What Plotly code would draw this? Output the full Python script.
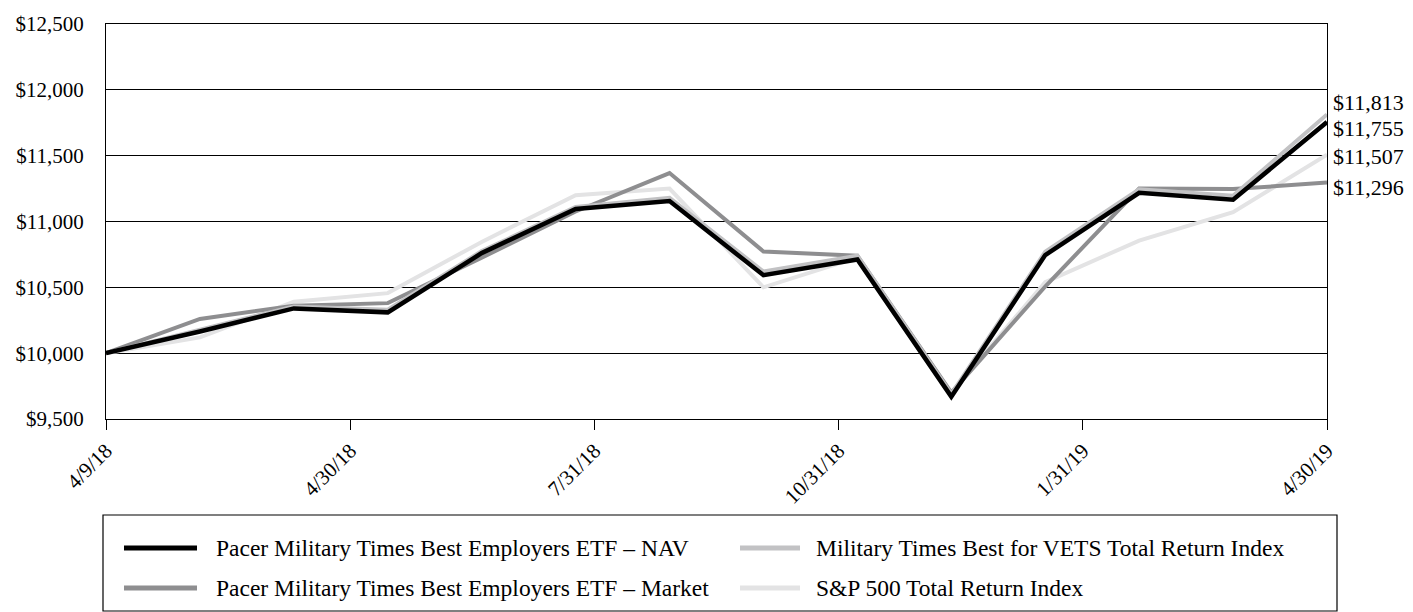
import numpy as np
import plotly.graph_objects as go

# ---- data ----
periods = ["4/9/18", "4/30/18", "5/31/18", "6/30/18", "7/31/18", "8/31/18", "9/30/18",
           "10/31/18", "11/30/18", "12/31/18", "1/31/19", "2/28/19", "3/31/19", "4/30/19"]
tick_labels = ["4/9/18", "4/30/18", "7/31/18", "10/31/18", "1/31/19", "4/30/19"]

nav = [10000, 10165, 10340, 10310, 10760, 11095, 11155, 10592, 10712, 9670, 10745, 11218, 11166, 11755]
market = [10000, 10260, 10360, 10380, 10725, 11076, 11368, 10772, 10740, 9700, 10506, 11250, 11246, 11296]
vets = [10000, 10180, 10355, 10330, 10775, 11110, 11180, 10620, 10740, 9690, 10770, 11245, 11195, 11813]
sp500 = [10000, 10120, 10390, 10456, 10845, 11200, 11250, 10500, 10725, 9700, 10540, 10855, 11070, 11507]

names = ["Pacer Military Times Best Employers ETF \u2013 NAV",
         "Military Times Best for VETS Total Return Index",
         "Pacer Military Times Best Employers ETF \u2013 Market",
         "S&P 500 Total Return Index"]
colors = {"nav": "#000000", "market": "#8e8e90", "vets": "#c2c2c4", "sp": "#e3e3e4"}

FONT = "Liberation Serif, Times New Roman, serif"
x = list(range(len(periods)))

fig = go.Figure()
# draw order: S&P, Market, VETS, NAV on top
fig.add_trace(go.Scatter(x=x, y=sp500, mode="lines", name=names[3],
                         line=dict(color=colors["sp"], width=4), showlegend=False))
fig.add_trace(go.Scatter(x=x, y=market, mode="lines", name=names[2],
                         line=dict(color=colors["market"], width=4), showlegend=False))
fig.add_trace(go.Scatter(x=x, y=vets, mode="lines", name=names[1],
                         line=dict(color=colors["vets"], width=4), showlegend=False))
fig.add_trace(go.Scatter(x=x, y=nav, mode="lines", name=names[0],
                         line=dict(color=colors["nav"], width=4.5), showlegend=False))

# end labels
end_series = [(vets, 11.5), (nav, -6), (sp500, -2), (market, -5)]
for ser, ysh in end_series:
    fig.add_annotation(x=x[-1], y=ser[-1], xref="x", yref="y",
                       text=f"${ser[-1]:,.0f}", showarrow=False,
                       xanchor="left", yanchor="middle", xshift=4, yshift=ysh,
                       font=dict(family=FONT, size=22, color="#000"))

# manual legend box (paper coords: plot area 106..1327 x, 24..419 y)
L, R, T, B = 106, 1327, 24, 419
def px(xp):
    return (xp - L) / (R - L)
def py(yp):
    return (B - yp) / (B - T)

fig.add_shape(type="rect", xref="paper", yref="paper",
              x0=px(103), x1=px(1337), y0=py(515), y1=py(611),
              line=dict(color="#000", width=1.2), fillcolor="rgba(0,0,0,0)")

legend_items = [(names[0], colors["nav"], 124, 197, 214, 548),
                (names[1], colors["vets"], 740, 800, 814, 548),
                (names[2], colors["market"], 124, 197, 214, 588),
                (names[3], colors["sp"], 740, 800, 814, 588)]
for name, col, lx0, lx1, tx, ty in legend_items:
    fig.add_shape(type="line", xref="paper", yref="paper",
                  x0=px(lx0), x1=px(lx1), y0=py(ty), y1=py(ty),
                  line=dict(color=col, width=5))
    fig.add_annotation(xref="paper", yref="paper", x=px(tx), y=py(ty),
                       text=name, showarrow=False, xanchor="left", yanchor="middle",
                       font=dict(family=FONT, size=23.5, color="#000"))

tickvals = list(np.linspace(0, len(periods) - 1, len(tick_labels)))

fig.update_layout(
    width=1413, height=612,
    margin=dict(l=L, r=1413 - R, t=T, b=612 - B),
    paper_bgcolor="white", plot_bgcolor="white",
    font=dict(family=FONT, size=21, color="#000"),
    showlegend=False,
)
fig.update_xaxes(range=[0, len(periods) - 1], tickvals=tickvals, ticktext=tick_labels,
                 tickangle=-45, ticks="outside", ticklen=10, tickcolor="#000", tickwidth=1,
                 showgrid=False, zeroline=False, showline=True, linecolor="#000",
                 linewidth=1.2, mirror=True, tickfont=dict(family=FONT, size=21, color="#000"))
fig.update_yaxes(range=[9500, 12500], dtick=500, tick0=9500, tickprefix="$", tickformat=",",
                 showgrid=True, gridcolor="#000", gridwidth=1, zeroline=False,
                 showline=True, linecolor="#000", linewidth=1.2, mirror=True,
                 ticks="", ticklabelstandoff=17,
                 tickfont=dict(family=FONT, size=21, color="#000"))

fig.write_html("out.html")
